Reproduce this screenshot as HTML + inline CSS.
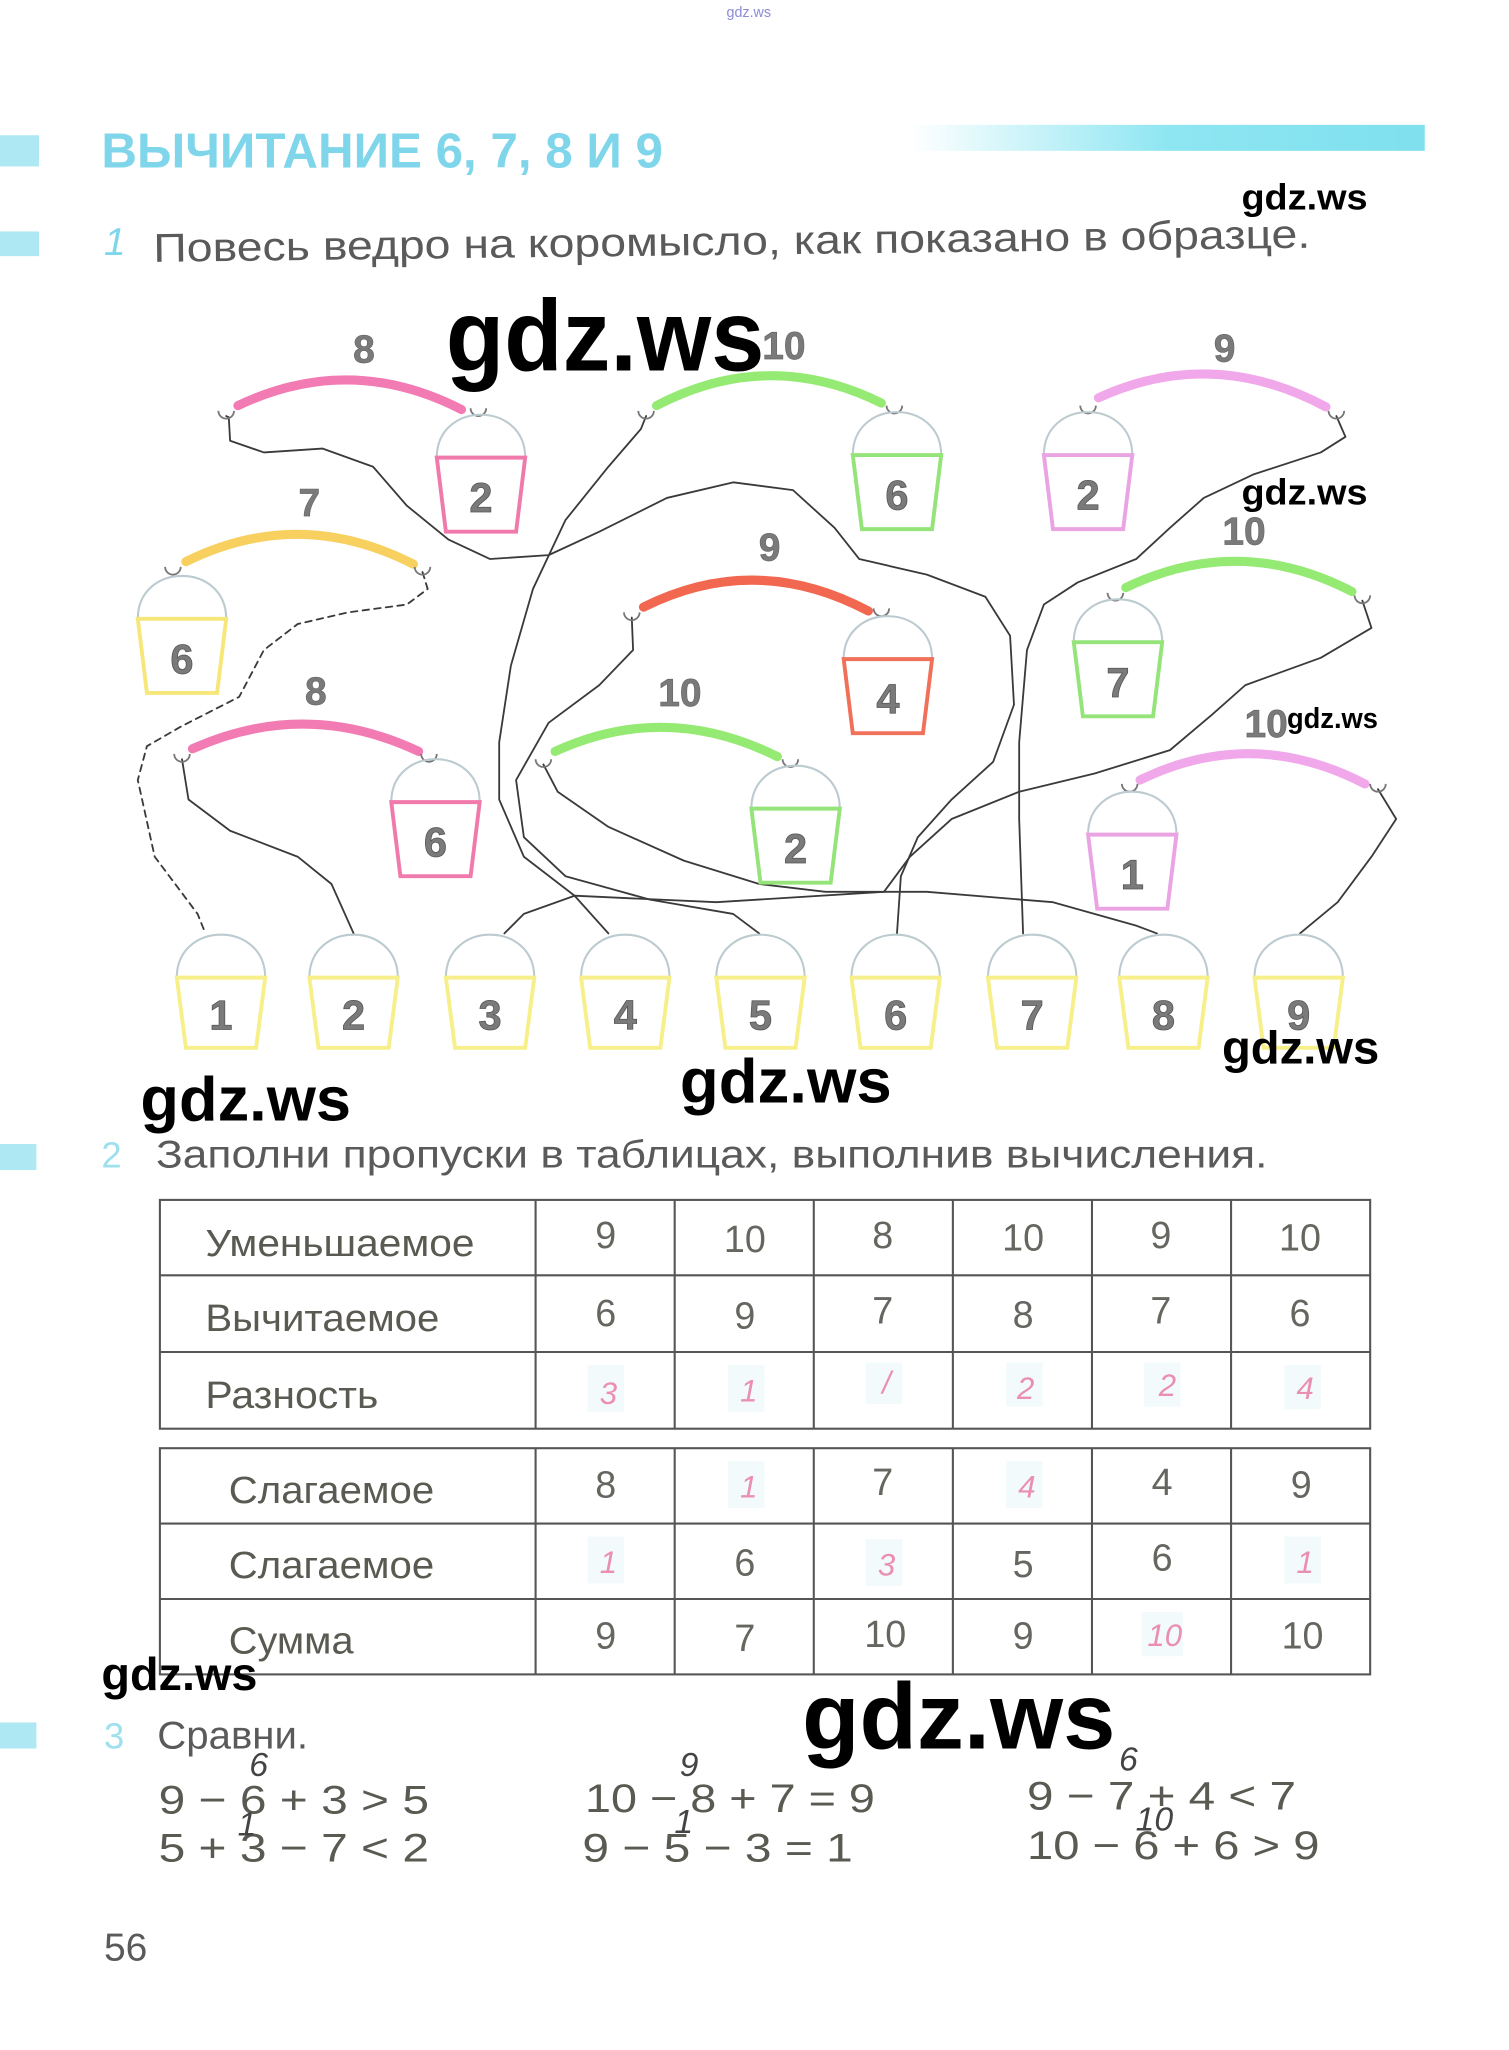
<!DOCTYPE html>
<html><head><meta charset="utf-8"><style>
html,body{margin:0;padding:0;background:#fff;width:1509px;height:2050px;overflow:hidden}
svg{display:block}
text{font-family:"Liberation Sans",sans-serif}
.w{font-weight:bold;fill:#000}
.lab{font-weight:bold;fill:#7a7a7a;stroke:#666;stroke-width:.5;font-size:30px;text-anchor:middle}
.num{font-weight:bold;fill:#7a7a7a;stroke:#555;stroke-width:.6;font-size:32px;text-anchor:middle}
.t{fill:#5a5a52;font-size:29px}
.c{fill:#666660;font-size:29px;text-anchor:middle}
.h{fill:#e86a9a;font-size:24px;font-style:italic;text-anchor:middle;opacity:.75}
.hw{fill:#444;font-size:26px;font-style:italic;text-anchor:middle}
.dome{fill:none;stroke:#bccbd0;stroke-width:1.6}
.hook{fill:none;stroke:#777;stroke-width:1.4}
.cv{fill:none;stroke:#3a3a3a;stroke-width:1.4;stroke-linejoin:round;stroke-linecap:round}
.yk{fill:none;stroke-width:7;stroke-linecap:round}
.grid{stroke:#555;stroke-width:1.6;fill:none}
.ex{fill:#5a5a52;font-size:31px}
</style></head><body>
<svg width="1509" height="2050" viewBox="0 0 1160.8 1576.9" xmlns="http://www.w3.org/2000/svg">
<defs>
<linearGradient id="bar" x1="0" x2="1"><stop offset="0" stop-color="#8ee6f2" stop-opacity="0"/><stop offset=".5" stop-color="#8ee6f2"/><stop offset="1" stop-color="#7fe0ee"/></linearGradient>
</defs>
<text x="576" y="13" font-size="11" fill="#8b8bd8" text-anchor="middle">gdz.ws</text>
<rect x="0" y="104" width="30" height="24" fill="#aee8f2"/>
<rect x="700" y="96" width="396" height="20" fill="url(#bar)"/>
<text x="78" y="129" font-size="38" font-weight="bold" fill="#7fd6ea" textLength="432" lengthAdjust="spacingAndGlyphs">ВЫЧИТАНИЕ  6,  7,  8  И  9</text>
<rect x="0" y="178" width="30" height="19" fill="#aee8f2"/>
<text x="80" y="196" font-size="30" font-style="italic" fill="#7fd6ea">1</text>
<text x="118" y="196" font-size="31" fill="#5a5a5a" textLength="890" lengthAdjust="spacingAndGlyphs" transform="rotate(-0.7 560 190)">Повесь   ведро   на   коромысло,   как   показано   в   образце.</text>
<text x="955" y="161" class="w" font-size="28" textLength="97" lengthAdjust="spacingAndGlyphs">gdz.ws</text>

<polyline class="cv" points="174,320 176,321 177,339 203,348 248,345 287,359 313,389 345,415 377,430 422,427 461,409 513,383 564,371 610,377 642,406 661,430 713,442 758,459 777,489 780,542 764,586 732,615 706,644 693,674 690,718"/>
<polyline class="cv" points="497,320 493,330 468,359 435,400 410,453 393,512 384,571 384,615 403,659 442,689 468,718"/>
<polyline class="cv" points="1028,320 1035,336 1016,348 964,365 926,383 900,406 874,430 829,448 803,465 790,500 784,571 784,630 787,718"/>
<polyline class="cv" stroke-dasharray="5,4" points="325,440 329,453 313,465 268,471 229,480 203,500 184,536 139,559 113,574 106,600 119,659 152,703 158,718"/>
<polyline class="cv" points="140,584 145,615 177,639 229,659 255,680 272,718"/>
<polyline class="cv" points="418,588 429,609 468,636 526,662 584,680 635,686 713,686 810,694 874,712 890,718"/>
<polyline class="cv" points="486,475 487,500 461,527 422,556 397,600 403,644 435,674 500,692 564,703 584,718"/>
<polyline class="cv" points="1048,462 1055,483 1016,506 958,527 932,550 900,577 842,595 784,609 732,630 700,659 680,686 551,694 442,689 403,703 388,718"/>
<polyline class="cv" points="1060,607 1074,630 1055,659 1029,694 1000,718"/>

<path class="yk" stroke="#f27bb3" d="M183,312 Q269,271 355,315"/>
<path class="yk" stroke="#95ea74" d="M505,312 Q591,267 678,310"/>
<path class="yk" stroke="#f0a8ea" d="M845,306 Q932,266 1020,313"/>
<path class="yk" stroke="#f7d060" d="M143,432 Q230,389 318,434"/>
<path class="yk" stroke="#f2674f" d="M495,467 Q581,424 668,470"/>
<path class="yk" stroke="#95ea74" d="M866,452 Q953,410 1040,455"/>
<path class="yk" stroke="#f27bb3" d="M148,576 Q235,537 322,578"/>
<path class="yk" stroke="#95ea74" d="M427,578 Q512,539 598,582"/>
<path class="yk" stroke="#f0a8ea" d="M877,600 Q963,558 1050,603"/>
<g class="hook">
<path d="M168,316 A6,6 0 0 0 180,316"/><path d="M362,314 A6,6 0 0 0 374,314"/>
<path d="M491,316 A6,6 0 0 0 503,316"/><path d="M682,312 A6,6 0 0 0 694,312"/>
<path d="M831,312 A6,6 0 0 0 843,312"/><path d="M1022,316 A6,6 0 0 0 1034,316"/>
<path d="M127,436 A6,6 0 0 0 139,436"/><path d="M319,436 A6,6 0 0 0 331,436"/>
<path d="M480,471 A6,6 0 0 0 492,471"/><path d="M672,468 A6,6 0 0 0 684,468"/>
<path d="M852,456 A6,6 0 0 0 864,456"/><path d="M1042,458 A6,6 0 0 0 1054,458"/>
<path d="M134,580 A6,6 0 0 0 146,580"/><path d="M324,580 A6,6 0 0 0 336,580"/>
<path d="M412,584 A6,6 0 0 0 424,584"/><path d="M602,584 A6,6 0 0 0 614,584"/>
<path d="M863,603 A6,6 0 0 0 875,603"/><path d="M1054,603 A6,6 0 0 0 1066,603"/>
</g>
<text class="lab" x="280" y="279">8</text>
<text class="lab" x="603" y="276">10</text>
<text class="lab" x="942" y="278">9</text>
<text class="lab" x="238" y="397">7</text>
<text class="lab" x="592" y="431">9</text>
<text class="lab" x="957" y="419">10</text>
<text class="lab" x="243" y="542">8</text>
<text class="lab" x="523" y="543">10</text>
<text class="lab" x="974" y="567">10</text>

<g>
<path class="dome" d="M336,352 C336,308 404,308 404,352"/><polygon points="336,352 404,352 397,409 343,409" fill="none" stroke="#f07aab" stroke-width="3"/><text class="num" x="370" y="394">2</text>
<path class="dome" d="M656,350 C656,306 724,306 724,350"/><polygon points="656,350 724,350 717,407 663,407" fill="none" stroke="#95e47a" stroke-width="3"/><text class="num" x="690" y="392">6</text>
<path class="dome" d="M803,350 C803,306 871,306 871,350"/><polygon points="803,350 871,350 864,407 810,407" fill="none" stroke="#eaa4e4" stroke-width="3"/><text class="num" x="837" y="392">2</text>
<path class="dome" d="M106,476 C106,432 174,432 174,476"/><polygon points="106,476 174,476 167,533 113,533" fill="none" stroke="#f7e77a" stroke-width="3"/><text class="num" x="140" y="518">6</text>
<path class="dome" d="M649,507 C649,463 717,463 717,507"/><polygon points="649,507 717,507 710,564 656,564" fill="none" stroke="#f0705a" stroke-width="3"/><text class="num" x="683" y="549">4</text>
<path class="dome" d="M826,494 C826,450 894,450 894,494"/><polygon points="826,494 894,494 887,551 833,551" fill="none" stroke="#95e47a" stroke-width="3"/><text class="num" x="860" y="536">7</text>
<path class="dome" d="M301,617 C301,573 369,573 369,617"/><polygon points="301,617 369,617 362,674 308,674" fill="none" stroke="#f07aab" stroke-width="3"/><text class="num" x="335" y="659">6</text>
<path class="dome" d="M578,622 C578,578 646,578 646,622"/><polygon points="578,622 646,622 639,679 585,679" fill="none" stroke="#95e47a" stroke-width="3"/><text class="num" x="612" y="664">2</text>
<path class="dome" d="M837,642 C837,598 905,598 905,642"/><polygon points="837,642 905,642 898,699 844,699" fill="none" stroke="#eaa4e4" stroke-width="3"/><text class="num" x="871" y="684">1</text>
</g>
<g>
<path class="dome" d="M136,752 C136,708 204,708 204,752"/><polygon points="136,752 204,752 197,806 143,806" fill="none" stroke="#f7ef8a" stroke-width="3"/><text class="num" x="170" y="792">1</text>
<path class="dome" d="M238,752 C238,708 306,708 306,752"/><polygon points="238,752 306,752 299,806 245,806" fill="none" stroke="#f7ef8a" stroke-width="3"/><text class="num" x="272" y="792">2</text>
<path class="dome" d="M343,752 C343,708 411,708 411,752"/><polygon points="343,752 411,752 404,806 350,806" fill="none" stroke="#f7ef8a" stroke-width="3"/><text class="num" x="377" y="792">3</text>
<path class="dome" d="M447,752 C447,708 515,708 515,752"/><polygon points="447,752 515,752 508,806 454,806" fill="none" stroke="#f7ef8a" stroke-width="3"/><text class="num" x="481" y="792">4</text>
<path class="dome" d="M551,752 C551,708 619,708 619,752"/><polygon points="551,752 619,752 612,806 558,806" fill="none" stroke="#f7ef8a" stroke-width="3"/><text class="num" x="585" y="792">5</text>
<path class="dome" d="M655,752 C655,708 723,708 723,752"/><polygon points="655,752 723,752 716,806 662,806" fill="none" stroke="#f7ef8a" stroke-width="3"/><text class="num" x="689" y="792">6</text>
<path class="dome" d="M760,752 C760,708 828,708 828,752"/><polygon points="760,752 828,752 821,806 767,806" fill="none" stroke="#f7ef8a" stroke-width="3"/><text class="num" x="794" y="792">7</text>
<path class="dome" d="M861,752 C861,708 929,708 929,752"/><polygon points="861,752 929,752 922,806 868,806" fill="none" stroke="#f7ef8a" stroke-width="3"/><text class="num" x="895" y="792">8</text>
<path class="dome" d="M965,752 C965,708 1033,708 1033,752"/><polygon points="965,752 1033,752 1026,806 972,806" fill="none" stroke="#f7ef8a" stroke-width="3"/><text class="num" x="999" y="792">9</text>
</g>

<text x="343" y="285" class="w" font-size="78" textLength="245" lengthAdjust="spacingAndGlyphs">gdz.ws</text>
<text x="955" y="388" class="w" font-size="28" textLength="97" lengthAdjust="spacingAndGlyphs">gdz.ws</text>
<text x="990" y="560" class="w" font-size="22" textLength="70" lengthAdjust="spacingAndGlyphs">gdz.ws</text>
<text x="940" y="818" class="w" font-size="36" textLength="121" lengthAdjust="spacingAndGlyphs">gdz.ws</text>
<text x="108" y="862" class="w" font-size="48" textLength="162" lengthAdjust="spacingAndGlyphs">gdz.ws</text>
<text x="523" y="848" class="w" font-size="48" textLength="163" lengthAdjust="spacingAndGlyphs">gdz.ws</text>

<rect x="0" y="880" width="28" height="20" fill="#aee8f2"/>
<text x="78" y="898" font-size="28" fill="#9ee0ee">2</text>
<text x="120" y="898" font-size="30" fill="#5a5a5a" textLength="855" lengthAdjust="spacingAndGlyphs">Заполни   пропуски   в   таблицах,   выполнив   вычисления.</text>

<g class="grid">
<rect x="123" y="923" width="931" height="176"/>
<line x1="123" y1="981" x2="1054" y2="981"/><line x1="123" y1="1040" x2="1054" y2="1040"/>
<line x1="412" y1="923" x2="412" y2="1099"/><line x1="519" y1="923" x2="519" y2="1099"/><line x1="626" y1="923" x2="626" y2="1099"/><line x1="733" y1="923" x2="733" y2="1099"/><line x1="840" y1="923" x2="840" y2="1099"/><line x1="947" y1="923" x2="947" y2="1099"/>
<rect x="123" y="1114" width="931" height="174"/>
<line x1="123" y1="1172" x2="1054" y2="1172"/><line x1="123" y1="1230" x2="1054" y2="1230"/>
<line x1="412" y1="1114" x2="412" y2="1288"/><line x1="519" y1="1114" x2="519" y2="1288"/><line x1="626" y1="1114" x2="626" y2="1288"/><line x1="733" y1="1114" x2="733" y2="1288"/><line x1="840" y1="1114" x2="840" y2="1288"/><line x1="947" y1="1114" x2="947" y2="1288"/>
</g>
<text class="t" x="158" y="966" textLength="207" lengthAdjust="spacingAndGlyphs">Уменьшаемое</text>
<text class="t" x="158" y="1024" textLength="180" lengthAdjust="spacingAndGlyphs">Вычитаемое</text>
<text class="t" x="158" y="1083" textLength="133" lengthAdjust="spacingAndGlyphs">Разность</text>
<text class="t" x="176" y="1156" textLength="158" lengthAdjust="spacingAndGlyphs">Слагаемое</text>
<text class="t" x="176" y="1214" textLength="158" lengthAdjust="spacingAndGlyphs">Слагаемое</text>
<text class="t" x="176" y="1272" textLength="96" lengthAdjust="spacingAndGlyphs">Сумма</text>
<g class="c">
<text x="466" y="960">9</text><text x="573" y="963">10</text><text x="679" y="960">8</text><text x="787" y="962">10</text><text x="893" y="960">9</text><text x="1000" y="962">10</text>
<text x="466" y="1020">6</text><text x="573" y="1022">9</text><text x="679" y="1018">7</text><text x="787" y="1021">8</text><text x="893" y="1018">7</text><text x="1000" y="1020">6</text>
<text x="466" y="1152">8</text><text x="679" y="1150">7</text><text x="894" y="1150">4</text><text x="1001" y="1152">9</text>
<text x="573" y="1212">6</text><text x="787" y="1213">5</text><text x="894" y="1208">6</text>
<text x="466" y="1268">9</text><text x="573" y="1270">7</text><text x="681" y="1267">10</text><text x="787" y="1268">9</text><text x="1002" y="1268">10</text>
</g>
<g fill="#f2fafb">
<rect x="452" y="1050" width="28" height="36"/><rect x="560" y="1050" width="28" height="36"/><rect x="666" y="1048" width="28" height="32"/><rect x="774" y="1048" width="28" height="34"/><rect x="880" y="1048" width="28" height="34"/><rect x="988" y="1050" width="28" height="34"/>
<rect x="560" y="1124" width="28" height="36"/><rect x="774" y="1124" width="28" height="36"/><rect x="452" y="1182" width="28" height="36"/><rect x="666" y="1184" width="28" height="36"/><rect x="988" y="1182" width="28" height="36"/><rect x="878" y="1240" width="32" height="34"/>
</g>
<g class="h">
<text x="468" y="1080">3</text><text x="576" y="1078">1</text><text x="682" y="1072">/</text><text x="789" y="1076">2</text><text x="898" y="1074">2</text><text x="1004" y="1076">4</text>
<text x="576" y="1152">1</text><text x="790" y="1152">4</text><text x="468" y="1210">1</text><text x="682" y="1212">3</text><text x="1004" y="1210">1</text><text x="896" y="1266">10</text>
</g>

<text x="78" y="1300" class="w" font-size="36" textLength="120" lengthAdjust="spacingAndGlyphs">gdz.ws</text>
<rect x="0" y="1325" width="28" height="20" fill="#aee8f2"/>
<text x="80" y="1345" font-size="28" fill="#9ee0ee">3</text>
<text x="121" y="1345" font-size="30" fill="#5a5a5a" textLength="116" lengthAdjust="spacingAndGlyphs">Сравни.</text>
<text x="617" y="1345" class="w" font-size="72" textLength="241" lengthAdjust="spacingAndGlyphs">gdz.ws</text>
<g class="ex">
<text x="122" y="1395" textLength="208" lengthAdjust="spacingAndGlyphs">9 − 6 + 3  &gt;  5</text>
<text x="122" y="1432" textLength="208" lengthAdjust="spacingAndGlyphs">5 + 3 − 7  &lt;  2</text>
<text x="450" y="1394" textLength="223" lengthAdjust="spacingAndGlyphs">10 − 8 + 7  =  9</text>
<text x="448" y="1432" textLength="208" lengthAdjust="spacingAndGlyphs">9 − 5 − 3  =  1</text>
<text x="790" y="1392" textLength="207" lengthAdjust="spacingAndGlyphs">9 − 7 + 4  &lt;  7</text>
<text x="790" y="1430" textLength="225" lengthAdjust="spacingAndGlyphs">10 − 6 + 6  &gt;  9</text>
</g>
<g class="hw">
<text x="199" y="1366">6</text><text x="190" y="1412">1</text>
<text x="530" y="1366">9</text><text x="526" y="1410">1</text>
<text x="868" y="1362">6</text><text x="888" y="1408">10</text>
</g>
<text x="80" y="1508" font-size="30" fill="#5a5a5a">56</text>
</svg>
</body></html>
